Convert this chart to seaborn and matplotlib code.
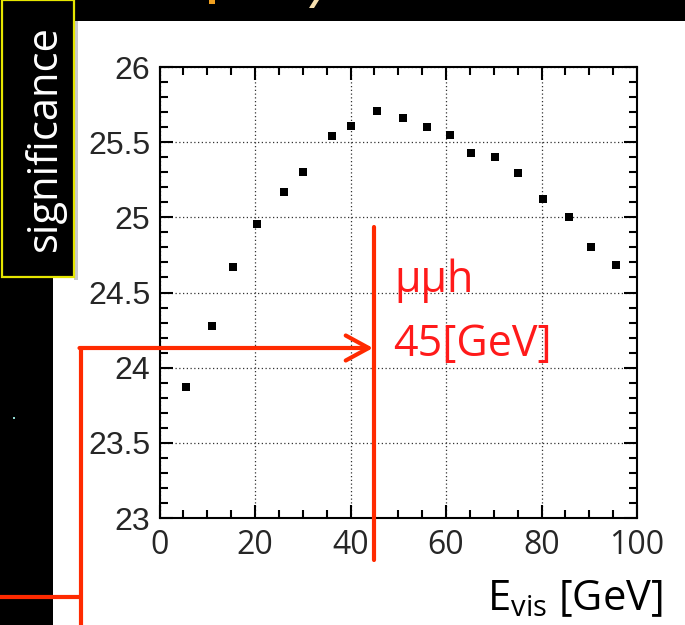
import numpy as np
import pandas as pd
import matplotlib
matplotlib.use("Agg")
import matplotlib.pyplot as plt
import seaborn as sns
from matplotlib.patches import Rectangle, Polygon, FancyArrowPatch
from matplotlib.lines import Line2D
from matplotlib.ticker import MultipleLocator

# values
e_vis = [5.5, 10.9, 15.3, 20.5, 26.1, 30.1, 36.1, 40.2, 45.6, 50.9,
         56.1, 60.8, 65.2, 70.2, 75.1, 80.3, 85.8, 90.3, 95.7]
signif = [23.87, 24.28, 24.67, 24.955, 25.17, 25.30, 25.54, 25.61, 25.71, 25.66,
          25.60, 25.545, 25.43, 25.40, 25.295, 25.12, 25.00, 24.80, 24.68]
x_ticks = [0, 20, 40, 60, 80, 100]
y_ticks = [23, 23.5, 24, 24.5, 25, 25.5, 26]
y_tick_labels = ["23", "23.5", "24", "24.5", "25", "25.5", "26"]

df = pd.DataFrame({"E_vis": e_vis, "significance": signif})

sns.set_style("ticks")
W, H = 685, 625
fig = plt.figure(figsize=(W / 100, H / 100), dpi=100)

def fx(px):
    return px / W

def fy(py):
    return 1 - py / H

# dark slide background pieces
fig.patches.append(Rectangle((0, 0), fx(53), 1, transform=fig.transFigure,
                             facecolor="black", edgecolor="none", zorder=0))
fig.patches.append(Rectangle((0, fy(21)), 1, 21 / H, transform=fig.transFigure,
                             facecolor="black", edgecolor="none", zorder=0))
fig.patches.append(Rectangle((fx(74), fy(280)), fx(4), (280 - 21) / H, transform=fig.transFigure,
                             facecolor="#c8c8c8", edgecolor="none", zorder=0))
fig.patches.append(Rectangle((fx(2), fy(277)), fx(72), 277 / H, transform=fig.transFigure,
                             facecolor="black", edgecolor="#e6e600", linewidth=1.6, zorder=1))
fig.patches.append(Rectangle((fx(13), fy(419)), fx(2), 2 / H, transform=fig.transFigure,
                             facecolor="#8fd8d0", edgecolor="none", zorder=1))

# bits of the slide title that is cut off at the top edge
fig.patches.append(Polygon([(fx(209), fy(0)), (fx(215), fy(0)), (fx(215), fy(4)), (fx(209), fy(4))],
                           closed=True, transform=fig.transFigure,
                           facecolor="#f0a020", edgecolor="none", zorder=1))
fig.patches.append(Polygon([(fx(314), fy(0)), (fx(319), fy(0)), (fx(314), fy(8)), (fx(309), fy(8))],
                           closed=True, transform=fig.transFigure,
                           facecolor="#f6dfae", edgecolor="none", zorder=1))

fig.text(fx(45), fy(138), "significance", rotation=90, color="white",
         family="Open Sans", fontsize=30, ha="center", va="center")

ax = fig.add_axes([fx(159.5), fy(518), fx(637) - fx(159.5), fy(67) - fy(518)])
ax.set_facecolor("white")

sns.scatterplot(data=df, x="E_vis", y="significance", marker="s", s=30,
                color="black", edgecolor="black", linewidth=0, ax=ax, zorder=3)

ax.set_xlim(0, 100)
ax.set_ylim(23, 26)
ax.set_xticks(x_ticks)
ax.set_yticks(y_ticks)
ax.set_yticklabels(y_tick_labels)
ax.xaxis.set_minor_locator(MultipleLocator(5))
ax.yaxis.set_minor_locator(MultipleLocator(0.1))
ax.set_xlabel("")
ax.set_ylabel("")
ax.grid(True, which="major", linestyle=(0, (1, 2)), color="#333333", linewidth=0.9)
ax.tick_params(which="major", direction="in", length=9.5, width=1.5,
               top=True, right=True, labelsize=23, color="black")
ax.tick_params(which="minor", direction="in", length=5.5, width=1.5,
               top=True, right=True, color="black")
ax.tick_params(axis="y", pad=6.5)
ax.tick_params(axis="x", pad=8)
for lab in ax.get_yticklabels():
    lab.set_family("Liberation Sans")
for lab in ax.get_xticklabels():
    lab.set_family("Open Sans")
for sp in ax.spines.values():
    sp.set_linewidth(1.5)
    sp.set_color("black")

fig.text(fx(663), fy(610), r"$\mathregular{E_{vis}}$ [GeV]", family="Open Sans",
         fontsize=30, ha="right", va="baseline", color="black")

# red annotation overlay
red = "#ff2a00"
lw = 3.0
fig.add_artist(Line2D([fx(374), fx(374)], [fy(227), fy(560)], color=red, lw=lw,
                      transform=fig.transFigure, zorder=5))
fig.add_artist(Line2D([fx(81), fx(81)], [fy(348), fy(625)], color=red, lw=lw,
                      transform=fig.transFigure, zorder=5))
fig.add_artist(Line2D([0, fx(81)], [fy(597), fy(597)], color=red, lw=lw,
                      transform=fig.transFigure, zorder=5))
fig.add_artist(FancyArrowPatch((fx(79.5), fy(348)), (fx(373), fy(348)),
                               arrowstyle="->,head_length=0.55,head_width=0.3",
                               mutation_scale=30, color=red, lw=lw,
                               transform=fig.transFigure, zorder=5,
                               shrinkA=0, shrinkB=0))
fig.text(fx(394), fy(292), "μμh", color="#ff1a1a", family="Open Sans",
         fontsize=31, ha="left", va="baseline")
fig.text(fx(393), fy(356), "45[GeV]", color="#ff1a1a", family="Open Sans",
         fontsize=31, ha="left", va="baseline")

fig.savefig("out.png", dpi=100, facecolor="white")
